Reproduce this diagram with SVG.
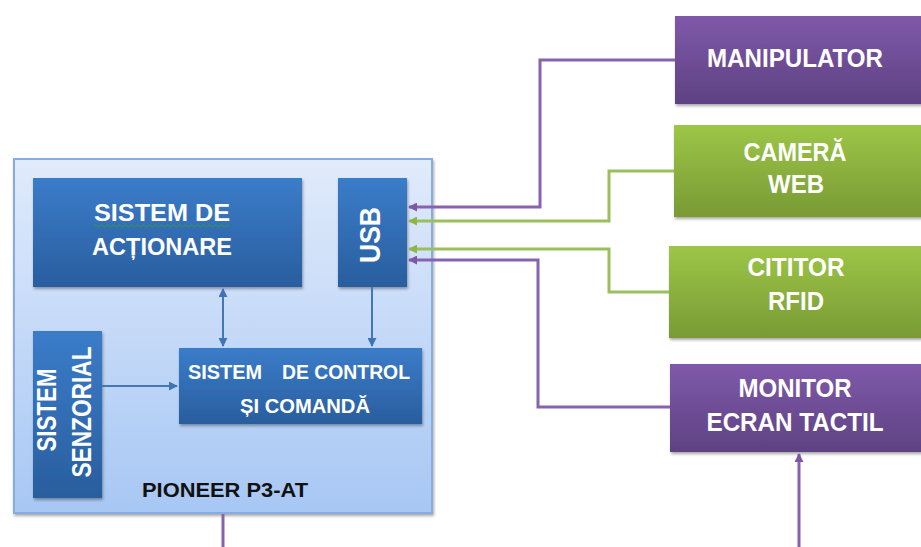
<svg xmlns="http://www.w3.org/2000/svg" width="921" height="547" viewBox="0 0 921 547">
  <defs>
    <linearGradient id="gPurple" x1="0" y1="0" x2="0" y2="1">
      <stop offset="0" stop-color="#7f59aa"/>
      <stop offset="1" stop-color="#5e4282"/>
    </linearGradient>
    <linearGradient id="gGreen" x1="0" y1="0" x2="0" y2="1">
      <stop offset="0" stop-color="#9dc647"/>
      <stop offset="1" stop-color="#799a35"/>
    </linearGradient>
    <linearGradient id="gBlue" x1="0" y1="0" x2="0" y2="1">
      <stop offset="0" stop-color="#3b7cc9"/>
      <stop offset="1" stop-color="#295e9e"/>
    </linearGradient>
    <linearGradient id="gOuter" x1="0" y1="0" x2="0" y2="1">
      <stop offset="0" stop-color="#e1ebfb"/>
      <stop offset="1" stop-color="#a7c7f4"/>
    </linearGradient>
    <filter id="shadow" x="-5%" y="-5%" width="112%" height="115%">
      <feGaussianBlur in="SourceAlpha" stdDeviation="1.5"/>
      <feOffset dx="1" dy="2" result="b"/>
      <feComponentTransfer><feFuncA type="linear" slope="0.35"/></feComponentTransfer>
      <feMerge><feMergeNode/><feMergeNode in="SourceGraphic"/></feMerge>
    </filter>
    <marker id="aPurple" viewBox="0 0 10 10" refX="9" refY="5" markerWidth="9" markerHeight="9" markerUnits="userSpaceOnUse" orient="auto">
      <path d="M0,0 L10,5 L0,10 z" fill="#7d57a6"/>
    </marker>
    <marker id="aGreen" viewBox="0 0 10 10" refX="9" refY="5" markerWidth="9" markerHeight="9" markerUnits="userSpaceOnUse" orient="auto">
      <path d="M0,0 L10,5 L0,10 z" fill="#8fb54a"/>
    </marker>
    <marker id="aBlue" viewBox="0 0 10 10" refX="9" refY="5" markerWidth="9" markerHeight="9" markerUnits="userSpaceOnUse" orient="auto-start-reverse">
      <path d="M0,0 L10,5 L0,10 z" fill="#3f74b6"/>
    </marker>
  </defs>
  <style>
    .lbl { font-family: "Liberation Sans", Arial, sans-serif; font-weight: bold; fill: #ffffff; text-anchor: middle; }
    .dark { font-family: "Liberation Sans", Arial, sans-serif; font-weight: bold; fill: #111111; text-anchor: middle; }
    .purple { fill: url(#gPurple); }
    .green { fill: url(#gGreen); }
    .blue { fill: url(#gBlue); }
    .wp { fill: none; stroke: #8763ad; stroke-width: 3; }
    .wg { fill: none; stroke: #9bbf5c; stroke-width: 3; }
    .wb { fill: none; stroke: #4377b8; stroke-width: 2; }
  </style>

  <rect width="921" height="547" fill="#ffffff"/>

  <!-- robot platform enclosure -->
  <g id="pioneer">
    <rect x="14" y="159" width="418" height="354" fill="url(#gOuter)" stroke="#86ade0" stroke-width="2" filter="url(#shadow)"/>
    <text class="dark" x="225" y="497" font-size="21" textLength="166" lengthAdjust="spacingAndGlyphs">PIONEER P3-AT</text>
  </g>

  <g id="actionare">
    <rect class="blue" x="33" y="178" width="269" height="109" filter="url(#shadow)"/>
    <text class="lbl" x="162" y="221" font-size="24" textLength="136" lengthAdjust="spacingAndGlyphs">SISTEM  DE</text>
    <path d="M94,226 q1.5,-2 3,0 t3,0 t3,0 t3,0 t3,0 t3,0 t3,0 t3,0 t3,0 t3,0 t3,0 t3,0 t3,0 t3,0 t3,0 t3,0 t3,0 t3,0 t3,0 t3,0 t3,0 t3,0 t3,0 t3,0 t3,0 t3,0 t3,0 t3,0 t3,0 t3,0 t3,0 t3,0 t3,0 t3,0 t3,0 t3,0 t3,0 t3,0 t3,0 t3,0 t3,0 t3,0 t3,0 t3,0 t3,0" fill="none" stroke="#3c9a3c" stroke-width="1"/>
    <text class="lbl" x="162" y="255" font-size="24" textLength="140" lengthAdjust="spacingAndGlyphs">ACȚIONARE</text>
  </g>

  <g id="usb">
    <rect class="blue" x="338" y="178" width="69" height="109" filter="url(#shadow)"/>
    <text class="lbl" transform="translate(380,235) rotate(-90)" font-size="29" textLength="56" lengthAdjust="spacingAndGlyphs">USB</text>
  </g>

  <g id="senzorial">
    <rect class="blue" x="33" y="331" width="69" height="167" filter="url(#shadow)"/>
    <text class="lbl" transform="translate(56,410) rotate(-90)" font-size="28" textLength="83" lengthAdjust="spacingAndGlyphs">SISTEM</text>
    <text class="lbl" transform="translate(91,412) rotate(-90)" font-size="28" textLength="131" lengthAdjust="spacingAndGlyphs">SENZORIAL</text>
  </g>

  <g id="control">
    <rect class="blue" x="179" y="348" width="243" height="76" filter="url(#shadow)"/>
    <text class="lbl" x="225" y="379" font-size="21" textLength="74" lengthAdjust="spacingAndGlyphs">SISTEM</text>
    <text class="lbl" x="346" y="379" font-size="21" textLength="128" lengthAdjust="spacingAndGlyphs">DE CONTROL</text>
    <text class="lbl" x="305" y="413" font-size="21" textLength="130" lengthAdjust="spacingAndGlyphs">ȘI COMANDĂ</text>
  </g>

  <!-- peripherals -->
  <g id="manipulator">
    <rect class="purple" x="675" y="16" width="250" height="88" filter="url(#shadow)"/>
    <text class="lbl" x="795" y="67" font-size="26" textLength="176" lengthAdjust="spacingAndGlyphs">MANIPULATOR</text>
  </g>

  <g id="camera">
    <rect class="green" x="674" y="125" width="250" height="92" filter="url(#shadow)"/>
    <text class="lbl" x="795" y="161" font-size="26" textLength="103" lengthAdjust="spacingAndGlyphs">CAMERĂ</text>
    <text class="lbl" x="796" y="193" font-size="26" textLength="56" lengthAdjust="spacingAndGlyphs">WEB</text>
  </g>

  <g id="rfid">
    <rect class="green" x="669" y="246" width="255" height="92" filter="url(#shadow)"/>
    <text class="lbl" x="796" y="276" font-size="26" textLength="97" lengthAdjust="spacingAndGlyphs">CITITOR</text>
    <text class="lbl" x="796" y="310" font-size="26" textLength="56" lengthAdjust="spacingAndGlyphs">RFID</text>
  </g>

  <g id="monitor">
    <rect class="purple" x="670" y="364" width="255" height="88" filter="url(#shadow)"/>
    <text class="lbl" x="795" y="397" font-size="26" textLength="113" lengthAdjust="spacingAndGlyphs">MONITOR</text>
    <text class="lbl" x="795" y="431" font-size="26" textLength="177" lengthAdjust="spacingAndGlyphs">ECRAN TACTIL</text>
  </g>

  <g id="connectors">
    <!-- internal links -->
    <line class="wb" x1="223" y1="289" x2="223" y2="346" marker-start="url(#aBlue)" marker-end="url(#aBlue)"/>
    <line class="wb" x1="372" y1="287" x2="372" y2="346" marker-end="url(#aBlue)"/>
    <line class="wb" x1="102" y1="386" x2="177" y2="386" marker-end="url(#aBlue)"/>
    <!-- peripherals to USB -->
    <polyline class="wp" points="675,60 540,60 540,207 409,207" marker-end="url(#aPurple)"/>
    <polyline class="wg" points="674,171 609,171 609,221 409,221" marker-end="url(#aGreen)"/>
    <polyline class="wg" points="669,292 609,292 609,249 409,249" marker-end="url(#aGreen)"/>
    <polyline class="wp" points="670,407 538,407 538,260 409,260" marker-end="url(#aPurple)"/>
    <!-- leads off the bottom edge -->
    <line class="wp" x1="223" y1="514" x2="223" y2="547"/>
    <line class="wp" x1="799" y1="547" x2="799" y2="454" marker-end="url(#aPurple)"/>
  </g>
</svg>
